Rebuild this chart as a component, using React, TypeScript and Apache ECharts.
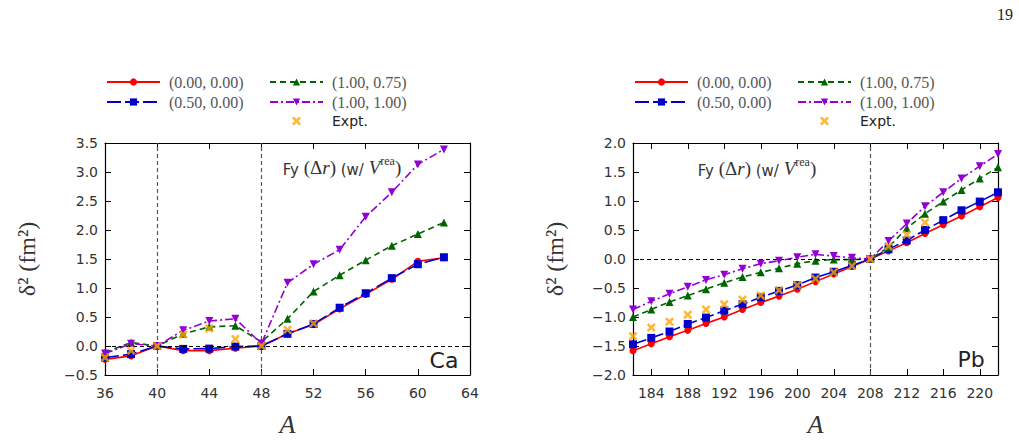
import React, { useEffect, useRef } from "react";
import * as echarts from "echarts";

// ---------- data ----------
const caA = [36, 38, 40, 42, 44, 46, 48, 50, 52, 54, 56, 58, 60, 62];
const caS00 = [-0.23, -0.17, 0, -0.08, -0.08, -0.04, 0, 0.21, 0.37, 0.64, 0.89, 1.15, 1.46, 1.52];
const caS50 = [-0.2, -0.14, 0, -0.05, -0.045, -0.01, 0, 0.21, 0.38, 0.66, 0.91, 1.17, 1.41, 1.53];
const caS75 = [-0.11, 0.06, 0, 0.21, 0.33, 0.35, 0.07, 0.47, 0.94, 1.22, 1.48, 1.73, 1.93, 2.13];
const caS11 = [-0.13, 0.04, 0, 0.27, 0.43, 0.47, 0.04, 1.09, 1.41, 1.66, 2.23, 2.65, 3.13, 3.39];
const caExptA = [36, 38, 40, 42, 44, 46, 48, 50, 52];
const caExpt = [-0.2, -0.08, 0, 0.2, 0.3, 0.12, 0, 0.28, 0.39];
const caXTicks = [36, 40, 44, 48, 52, 56, 60, 64];

const pbA = [182, 184, 186, 188, 190, 192, 194, 196, 198, 200, 202, 204, 206, 208, 210, 212, 214, 216, 218, 220, 222];
const pbS00 = [-1.58, -1.46, -1.34, -1.23, -1.11, -1.0, -0.87, -0.75, -0.64, -0.52, -0.39, -0.26, -0.13, 0, 0.14, 0.28, 0.44, 0.59, 0.74, 0.9, 1.06];
const pbS50 = [-1.47, -1.36, -1.25, -1.12, -1.01, -0.89, -0.78, -0.66, -0.55, -0.45, -0.32, -0.22, -0.11, 0, 0.17, 0.32, 0.5, 0.67, 0.84, 0.99, 1.15];
const pbS75 = [-1.0, -0.87, -0.74, -0.63, -0.52, -0.41, -0.31, -0.23, -0.16, -0.08, -0.03, -0.01, -0.01, 0, 0.2, 0.53, 0.78, 0.99, 1.19, 1.39, 1.58];
const pbS11 = [-0.87, -0.73, -0.6, -0.48, -0.36, -0.27, -0.17, -0.08, -0.03, 0.03, 0.08, 0.05, 0.02, 0, 0.31, 0.61, 0.91, 1.15, 1.39, 1.6, 1.81];
const pbExptA = [182, 184, 186, 188, 190, 192, 194, 196, 198, 200, 202, 204, 206, 208, 210, 212, 214];
const pbExpt = [-1.33, -1.18, -1.08, -0.96, -0.87, -0.78, -0.7, -0.63, -0.54, -0.45, -0.34, -0.23, -0.12, 0, 0.22, 0.42, 0.63];
const pbXTicks = [184, 188, 192, 196, 200, 204, 208, 212, 216, 220];

const names = ["(0.00, 0.00)", "(0.50, 0.00)", "(1.00, 0.75)", "(1.00, 1.00)", "Expt."];
const colors = ["#ff0000", "#0000cc", "#006400", "#9400d3", "#ffa500"];

const XSYM = "path://M0,2 L2,0 L5,3 L8,0 L10,2 L7,5 L10,8 L8,10 L5,7 L2,10 L0,8 L3,5 Z";

const pair = (xs: number[], ys: number[]) => xs.map((x, i) => [x, ys[i]]);

const SANS = "DejaVu Sans";
const SERIF = "Liberation Serif";

function makeSeries(xi: number, yi: number, A: number[], s00: number[], s50: number[], s75: number[], s11: number[], eA: number[], e: number[], refX: number[]) {
  const base = { xAxisIndex: xi, yAxisIndex: yi, type: "line", animation: false };
  return [
    {
      ...base,
      name: "ref" + xi,
      data: [],
      silent: true,
      z: 1,
      markLine: {
        silent: true,
        symbol: ["none", "none"],
        label: { show: false },
        animation: false,
        data: [
          ...refX.map((v) => ({ xAxis: v, lineStyle: { color: "#555", type: [4, 3], width: 1.2 } })),
          { yAxis: 0, lineStyle: { color: "#000", type: [4, 3], width: 1 } },
        ],
      },
    },
    {
      ...base, name: names[0], data: pair(A, s00), symbol: "circle", symbolSize: 7, z: 2,
      lineStyle: { color: colors[0], width: 1.6, type: "solid" }, itemStyle: { color: colors[0] },
    },
    {
      ...base, name: names[1], data: pair(A, s50), symbol: "rect", symbolSize: 8, z: 3,
      lineStyle: { color: colors[1], width: 1.6, type: [14, 4] }, itemStyle: { color: colors[1] },
    },
    {
      ...base, name: names[2], data: pair(A, s75), symbol: "triangle", symbolSize: 8, z: 4,
      lineStyle: { color: colors[2], width: 1.6, type: [6, 4] }, itemStyle: { color: colors[2] },
    },
    {
      ...base, name: names[3], data: pair(A, s11), symbol: "triangle", symbolRotate: 180, symbolSize: 8, z: 5,
      lineStyle: { color: colors[3], width: 1.6, type: [8, 3, 2, 3] }, itemStyle: { color: colors[3] },
    },
    {
      xAxisIndex: xi, yAxisIndex: yi, type: "scatter", name: names[4], data: pair(eA, e), z: 6,
      symbol: XSYM, symbolSize: 9, itemStyle: { color: colors[4] },
    },
  ];
}

const fmtY = (v: number) => (v < 0 ? "\u2212" + Math.abs(v).toFixed(1) : v.toFixed(1));
const tickLbl = { fontFamily: SANS, fontSize: 14, color: "#333" };
const tick = { show: true, inside: true, length: 6, lineStyle: { color: "#000", width: 1 } };
const line = { show: true, onZero: false, lineStyle: { color: "#000", width: 1.2 } };

function xAxes(gi: number, min: number, max: number, ticks: number[]) {
  const common = {
    type: "value", gridIndex: gi, min, max, splitLine: { show: false },
    axisLine: line,
    axisTick: { ...tick, customValues: ticks },
  };
  return [
    {
      ...common, position: "bottom",
      axisLabel: { ...tickLbl, margin: 11, customValues: ticks },
      name: "A", nameLocation: "middle", nameGap: 36,
      nameTextStyle: { fontFamily: SERIF, fontStyle: "italic", fontSize: 26, color: "#333" },
    },
    { ...common, position: "top", axisLabel: { show: false, customValues: ticks } },
  ];
}

function yAxes(gi: number, min: number, max: number) {
  const common = {
    type: "value", gridIndex: gi, min, max, interval: 0.5, splitLine: { show: false },
    axisLine: line, axisTick: tick,
  };
  return [
    {
      ...common, position: "left",
      axisLabel: { ...tickLbl, margin: 7, formatter: fmtY },
      name: "\u03b4\u00b2 (fm\u00b2)", nameLocation: "middle", nameGap: 66,
      nameTextStyle: { fontFamily: SERIF, fontSize: 24, color: "#333" },
    },
    { ...common, position: "right", axisLabel: { show: false } },
  ];
}

function legends(x1: number, x2: number) {
  const c = {
    orient: "vertical", top: 74, itemWidth: 53, itemHeight: 9, itemGap: 4, padding: 0,
    selectedMode: false,
    textStyle: { fontFamily: SERIF, fontSize: 16, lineHeight: 14, color: "#555", padding: [0, 0, 0, 4] },
  };
  return [
    { ...c, left: x1, data: [names[0], names[1]] },
    {
      ...c, left: x2,
      data: [names[2], names[3], { name: names[4], textStyle: { fontFamily: SANS, fontSize: 14, lineHeight: 14, color: "#222" } }],
    },
  ];
}

const annText = "{s|Fy }{m|(\u0394}{i|r}{m|) }{s|(w/ }{i|V}{sup|rea}{m|)}";
const annRich = {
  s: { fontFamily: SANS, fontSize: 15, fill: "#333", verticalAlign: "bottom", lineHeight: 22 },
  m: { fontFamily: SERIF, fontSize: 19, fill: "#333", verticalAlign: "bottom", lineHeight: 22 },
  i: { fontFamily: SERIF, fontStyle: "italic", fontSize: 19, fill: "#333", verticalAlign: "bottom", lineHeight: 22 },
  sup: { fontFamily: SERIF, fontSize: 12, fill: "#333", verticalAlign: "top", lineHeight: 22 },
};

export default function App() {
  const ref = useRef<HTMLDivElement>(null);
  useEffect(() => {
    if (!ref.current) return;
    const chart = echarts.init(ref.current, undefined, { renderer: "svg" });
    chart.setOption({
      animation: false,
      grid: [
        { left: 105, top: 143, width: 365, height: 239 },
        { left: 633, top: 143, width: 365, height: 239 },
      ],
      xAxis: [...xAxes(0, 36, 64, caXTicks), ...xAxes(1, 182, 222, pbXTicks)],
      yAxis: [...yAxes(0, -0.5, 3.5), ...yAxes(1, -2, 2)],
      legend: [...legends(106, 269), ...legends(634, 797)],
      series: [
        ...makeSeries(0, 0, caA, caS00, caS50, caS75, caS11, caExptA, caExpt, [40, 48]),
        ...makeSeries(2, 2, pbA, pbS00, pbS50, pbS75, pbS11, pbExptA, pbExpt, [208]),
      ],
      graphic: [
        { type: "text", right: 6, top: 6, style: { text: "19", font: `16px ${SERIF}`, fill: "#222" } },
        { type: "text", x: 342, y: 166, style: { text: annText, rich: annRich, align: "center", verticalAlign: "middle" } },
        { type: "text", x: 757, y: 167, style: { text: annText, rich: annRich, align: "center", verticalAlign: "middle" } },
        { type: "text", x: 444, y: 360, style: { text: "Ca", font: `22px ${SANS}`, fill: "#222", align: "center", verticalAlign: "middle" } },
        { type: "text", x: 971, y: 359, style: { text: "Pb", font: `22px ${SANS}`, fill: "#222", align: "center", verticalAlign: "middle" } },
      ],
    });
    return () => chart.dispose();
  }, []);
  return <div ref={ref} style={{ width: 1019, height: 442, position: "absolute", left: 0, top: 0 }} />;
}
